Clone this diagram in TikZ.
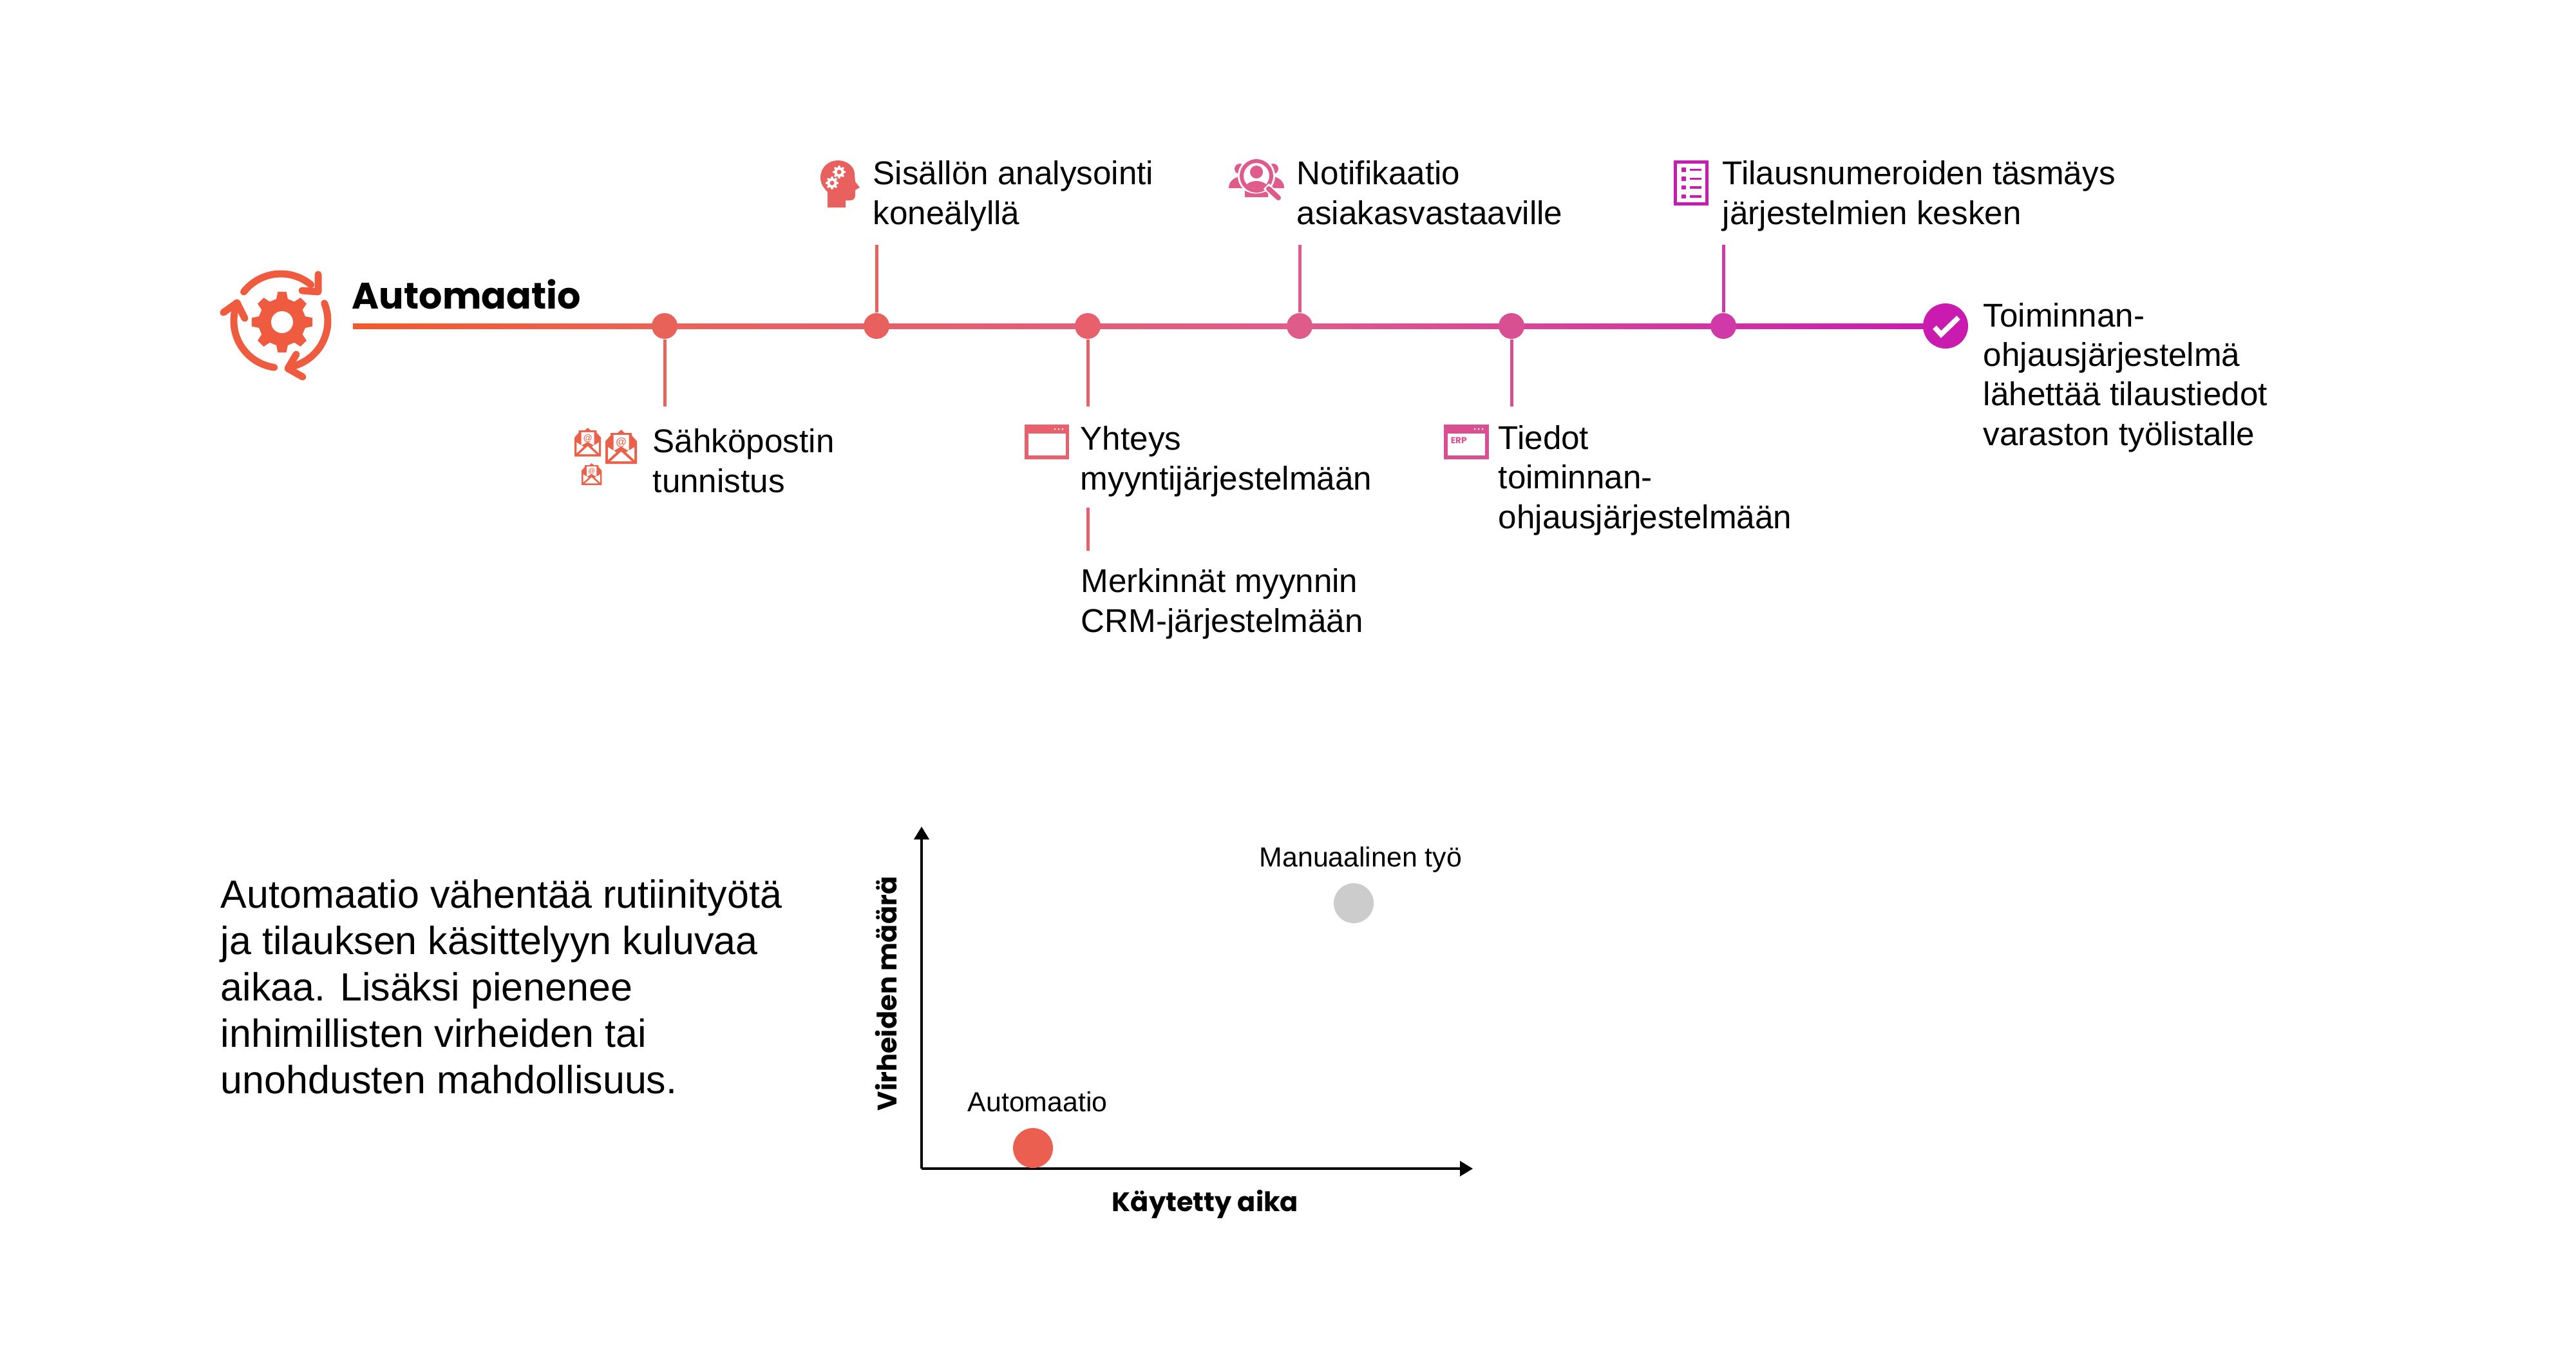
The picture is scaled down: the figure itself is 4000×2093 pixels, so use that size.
\documentclass[tikz,border=0pt]{standalone}
\usepackage{fontspec}
\setmainfont{Liberation Sans}
\newfontfamily\pop{Poppins}
\usetikzlibrary{arrows.meta}
\definecolor{cA}{HTML}{F15A2B}
\definecolor{cB}{HTML}{E9625A}
\definecolor{cC}{HTML}{E9615F}
\definecolor{cD}{HTML}{E7606B}
\definecolor{cE}{HTML}{DF5B8A}
\definecolor{cF}{HTML}{D84F92}
\definecolor{cG}{HTML}{D03AA8}
\definecolor{cH}{HTML}{C91BB0}
\definecolor{gearcol}{HTML}{EF5B3F}
\definecolor{envcol}{HTML}{EC6049}
\definecolor{graydot}{HTML}{CCCCCC}
\definecolor{reddot}{HTML}{EA5F50}
\tikzset{
  x=0.25pt,y=-0.25pt,
  txt/.style={anchor=base west,inner sep=0pt,align=left,font=\fontsize{12.8}{15.3}\selectfont},
  para/.style={anchor=base west,inner sep=0pt,align=left,font=\fontsize{15.25}{18}\selectfont},
  small/.style={anchor=base west,inner sep=0pt,font=\fontsize{10.7}{12}\selectfont},
  boldlab/.style={anchor=base west,inner sep=0pt,font=\pop\bfseries\fontsize{10.4}{12}\selectfont},
  dotnode/.style={circle,inner sep=0pt,minimum size=10pt,fill=#1},
  stem/.style={line width=1.25pt,draw=#1},
  arc line/.style={gearcol,line width=2.75pt,line cap=round,line join=round},
  axis/.style={line width=0.9pt,-{Triangle[length=5pt,width=5.8pt]}}
}
\newcommand{\gearicon}[5]{%
  \fill[#5,shift={(#1,#2)}] (-14:#4) \foreach \a in {0,45,...,315}{ -- (\a-14:#4) -- (\a-8:#3) -- (\a+8:#3) -- (\a+14:#4)} -- cycle;}
\newcommand{\envelope}[4]{%
  \begin{scope}[shift={(#1,#2)},scale=#3]
    \fill[envcol] (0,53)--(0,18)--(8,9)--(8,5)--(19,5)--(24.5,0)--(30,5)--(41,5)--(41,9)--(49,18)--(49,53)--cycle;
    \fill[white] (12.5,8)--(36.5,8)--(36.5,33)--(24.5,26)--(12.5,33)--cycle;
    \fill[white] (4,27)--(4,47)--(17,35)--cycle;
    \fill[white] (45,27)--(45,47)--(32,35)--cycle;
    \fill[white] (8,49)--(24.5,34)--(41,49)--cycle;
    \node[envcol,inner sep=0pt,font=\bfseries\fontsize{#4}{#4}\selectfont] at (24.5,20) {@};
  \end{scope}}
\begin{document}
\begin{tikzpicture}
\useasboundingbox (0,0) rectangle (4000,2093);
% timeline
\coordinate (p0) at (548,506);
\coordinate (p1) at (1032,506);
\coordinate (p2) at (1361,506);
\coordinate (p3) at (1689,506);
\coordinate (p4) at (2018,506);
\coordinate (p5) at (2347,506);
\coordinate (p6) at (2676,506);
\coordinate (p7) at (3021,506);
\shade[left color=cA,right color=cB] (548,502) rectangle (1032,510);
\shade[left color=cB,right color=cE] (1032,502) rectangle (2018,510);
\shade[left color=cE,right color=cH] (2018,502) rectangle (3021,510);
\coordinate (s1) at (1032,631);
\coordinate (s2) at (1361,380);
\coordinate (s3) at (1689,631);
\coordinate (s4) at (2018,380);
\coordinate (s5) at (2347,631);
\coordinate (s6) at (2676,380);
\coordinate (s3a) at (1689,788);
\coordinate (s3b) at (1689,855);
\node[dotnode=cB] (d1) at (p1) {};
\node[dotnode=cC] (d2) at (p2) {};
\node[dotnode=cD] (d3) at (p3) {};
\node[dotnode=cE] (d4) at (p4) {};
\node[dotnode=cF] (d5) at (p5) {};
\node[dotnode=cG] (d6) at (p6) {};
\node[circle,inner sep=0pt,minimum size=17.5pt,fill=cH] (d7) at (p7) {};
\draw[stem=cB] (d1) -- (s1);
\draw[stem=cC] (d2) -- (s2);
\draw[stem=cD] (d3) -- (s3);
\draw[stem=cD] (s3a) -- (s3b);
\draw[stem=cE] (d4) -- (s4);
\draw[stem=cF] (d5) -- (s5);
\draw[stem=cG] (d6) -- (s6);
\draw[white,line width=2pt] (3004,508) -- (3014,519) -- (3041,493);
% gear icon
\gearicon{438}{500}{47.5}{37}{gearcol}
\fill[white] (438,500) circle[radius=17];
\draw[arc line] (436,498) ++(-142:73) arc[start angle=-142,end angle=-50,radius=73];
\draw[arc line] (494,426) -- (494,453) -- (469,451);
\draw[arc line] (436,498) ++(-22:73) arc[start angle=-22,end angle=73,radius=73];
\draw[arc line] (460,550) -- (447,572) -- (470,585);
\draw[arc line] (436,498) ++(98:73) arc[start angle=98,end angle=202,radius=73];
\draw[arc line] (347,485) -- (368,470) -- (380,494);
\node[anchor=base west,inner sep=0pt,font=\pop\bfseries\fontsize{14.3}{16}\selectfont] (title) at (546,479) {Automaatio};
% head icon
\fill[cC] (1285,322) -- (1285,298) .. controls (1278,291) and (1274,284) .. (1274,276)
  .. controls (1274,260) and (1286,249) .. (1301,249)
  .. controls (1316,249) and (1327,259) .. (1327,270) -- (1328,282) -- (1335,291) -- (1328,295) -- (1328,303)
  .. controls (1328,308) and (1325,311) .. (1320,311) -- (1313,311) -- (1313,322) -- cycle;
\gearicon{1303}{267}{10}{7.5}{white}
\gearicon{1292}{284}{10}{7.5}{white}
\fill[cC] (1303,267) circle[radius=3.5] (1292,284) circle[radius=3.5];
% people + magnifier icon
\fill[cE] (1925,262) circle[radius=8] (1977,262) circle[radius=8];
\fill[cE] (1908,292) .. controls (1908,282) and (1915,276) .. (1925,274) -- (1940,274) -- (1933,292) -- cycle;
\fill[cE] (1994,292) .. controls (1994,282) and (1987,276) .. (1977,274) -- (1962,274) -- (1969,292) -- cycle;
\fill[cE] (1933,306) -- (1933,290) -- (1969,290) -- (1969,306) -- cycle;
\fill[white] (1951,273) circle[radius=29];
\begin{scope}
  \clip (1951,273) circle[radius=20];
  \fill[cE] (1951,267) circle[radius=10];
  \fill[cE] (1951,296) ellipse[x radius=20,y radius=15];
\end{scope}
\draw[cE,line width=1.5pt] (1951,273) circle[radius=23];
\fill[cE] (1933,306) -- (1933,296) .. controls (1945,302) and (1955,302) .. (1969,296) -- (1969,306) -- cycle;
\draw[white,line width=3pt] (1966,289) -- (1985,307);
\draw[cE,line width=2pt,line cap=round] (1970,293) -- (1985,307);
% list icon
\draw[cH,line width=1.25pt] (2601.5,251.5) rectangle (2650.5,316.5);
\foreach \yy in {263.5,277.5,291,305}{
  \fill[cH] (2611,\yy-3.3) rectangle (2617.5,\yy+3.3);
  \fill[cH] (2624,\yy-1.7) rectangle (2642,\yy+1.7);
}
% ERP window
\fill[cF] (2242,659) rectangle (2312,713);
\fill[white] (2248,673) rectangle (2306,707);
\fill[white] (2290,666) circle[radius=1.5] (2296,666) circle[radius=1.5] (2302,666) circle[radius=1.5];
\node[cF,anchor=base west,inner sep=0pt,font=\pop\bfseries\fontsize{3.4}{4}\selectfont] (erp) at (2252,688) {ERP};
% plain window
\fill[cD] (1591,659) rectangle (1660,713);
\fill[white] (1597,673) rectangle (1655,707);
\fill[white] (1638,666) circle[radius=1.5] (1644,666) circle[radius=1.5] (1650,666) circle[radius=1.5];
% envelopes
\envelope{940}{667}{1}{4.2}
\envelope{892}{664}{0.84}{3.5}
\envelope{903}{719}{0.64}{2.7}
% texts
\node[txt] (t1) at (1013,764) {Sähköpostin\\tunnistus};
\node[txt] (t2) at (1355,348) {Sisällön analysointi\\koneälyllä};
\node[txt] (t3) at (1677,760) {Yhteys\\myyntijärjestelmään};
\node[txt] (t3b) at (1678,981) {Merkinnät myynnin\\CRM-järjestelmään};
\node[txt] (t4) at (2013,348) {Notifikaatio\\asiakasvastaaville};
\node[txt] (t5) at (2326,820) {Tiedot\\toiminnan-\\ohjausjärjestelmään};
\node[txt] (t6) at (2674,348) {Tilausnumeroiden täsmäys\\järjestelmien kesken};
\node[txt] (t7) at (3079,691) {Toiminnan-\\ohjausjärjestelmä\\lähettää tilaustiedot\\varaston työlistalle};
\node[para] (body) at (342,1697) {Automaatio vähentää rutiinityötä\\ja tilauksen käsittelyyn kuluvaa\\aikaa. Lisäksi pienenee\\inhimillisten virheiden tai\\unohdusten mahdollisuus.};
% chart
\coordinate (o) at (1431,1814);
\coordinate (ytop) at (1431,1283);
\coordinate (xend) at (2287,1814);
\draw[axis] (o) -- (ytop);
\draw[axis] (o) -- (xend);
\node[circle,inner sep=0pt,minimum size=15.5pt,fill=reddot] (ra) at (1604,1782) {};
\node[circle,inner sep=0pt,minimum size=15.5pt,fill=graydot] (rm) at (2102,1402) {};
\node[small] (la) at (1502,1725) {Automaatio};
\node[small] (lm) at (1955,1345) {Manuaalinen työ};
\node[boldlab] (lx) at (1726,1880) {Käytetty aika};
\node[boldlab,rotate=90] (ly) at (1392,1725) {Virheiden määrä};
\end{tikzpicture}
\end{document}
